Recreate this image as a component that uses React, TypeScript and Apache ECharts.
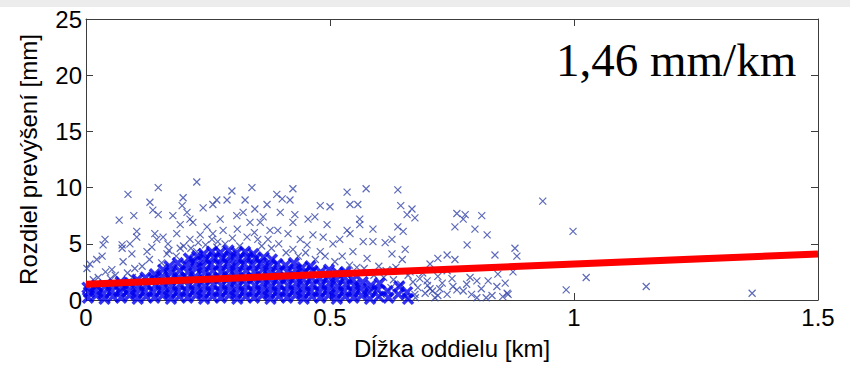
import React, { useEffect, useRef } from "react";
import * as echarts from "echarts";

const xTicks = [0, 0.5, 1, 1.5];
const yTicks = [0, 5, 10, 15, 20, 25];
const xName = "Dĺžka oddielu [km]";
const yName = "Rozdiel prevýšení [mm]";
const slopeLabel = "1,46 mm/km";

// regression line end points [km, mm]
const trendX = [0, 1.5];
const trendY = [1.4, 4.1];

// scattered single measurements [km, mm]
const sparsePoints: [number, number][] = [
  [0.227, 10.5], [0.148, 10.0], [0.086, 9.4], [0.068, 7.1], [0.098, 7.5], [0.131, 8.7], [0.137, 8.0], [0.148, 7.6],
  [0.104, 6.1], [0.104, 5.6], [0.039, 5.4], [0.035, 4.9], [0.074, 4.9], [0.074, 4.6], [0.09, 5.0], [0.094, 4.1],
  [0.033, 3.9], [0.022, 3.6], [0.008, 3.2], [0.002, 2.8], [0.053, 2.7], [0.076, 3.4], [0.125, 4.3], [0.141, 5.9],
  [0.145, 5.4], [0.135, 4.7], [0.158, 5.6], [0.178, 7.5], [0.199, 9.1], [0.197, 8.4], [0.207, 7.8], [0.213, 7.2],
  [0.219, 6.9], [0.193, 6.7], [0.186, 5.9], [0.168, 5.0], [0.166, 4.1], [0.193, 4.6], [0.213, 5.4], [0.24, 8.2],
  [0.248, 6.5], [0.26, 8.5], [0.268, 8.9], [0.275, 7.2], [0.289, 8.9], [0.234, 5.8], [0.258, 5.4], [0.227, 4.3],
  [0.268, 4.7], [0.281, 6.2],
  [0.34, 10.0], [0.299, 9.7], [0.424, 9.9], [0.535, 9.6], [0.574, 9.9], [0.326, 8.9], [0.391, 9.4], [0.402, 9.0],
  [0.418, 8.9], [0.371, 8.5], [0.346, 8.1], [0.48, 8.4], [0.5, 8.3], [0.541, 8.5], [0.557, 8.5], [0.309, 7.5],
  [0.322, 7.8], [0.336, 6.9], [0.357, 6.9], [0.363, 7.4], [0.398, 7.8], [0.428, 7.6], [0.424, 6.9], [0.455, 7.2],
  [0.469, 7.4], [0.494, 6.7], [0.561, 7.2], [0.561, 6.7], [0.535, 6.2], [0.541, 5.9], [0.377, 6.2], [0.393, 6.2],
  [0.414, 5.9], [0.352, 5.4], [0.373, 5.4], [0.439, 5.4], [0.465, 5.8], [0.486, 5.6], [0.52, 5.4], [0.506, 5.0],
  [0.568, 5.2], [0.453, 4.9], [0.424, 4.5], [0.48, 4.3], [0.547, 4.3], [0.576, 3.7],
  [0.639, 9.8], [0.645, 8.4], [0.668, 8.1], [0.658, 7.6], [0.674, 7.3], [0.76, 7.7], [0.777, 7.6], [0.773, 7.2],
  [0.811, 7.5], [0.756, 6.5], [0.797, 6.3], [0.822, 5.8], [0.781, 4.9], [0.639, 6.5], [0.65, 6.1], [0.627, 5.4],
  [0.588, 6.3], [0.588, 5.2], [0.613, 5.1], [0.879, 4.6], [0.883, 3.9], [0.838, 4.0], [0.74, 4.0], [0.721, 3.7],
  [0.756, 3.6], [0.654, 4.5], [0.627, 4.1], [0.648, 3.6], [0.705, 3.2], [0.875, 2.5], [0.844, 2.3], [0.824, 1.7],
  [0.842, 1.2], [0.863, 0.6], [0.801, 1.7], [0.787, 2.0], [0.75, 1.9], [0.721, 2.1], [0.752, 1.2], [0.773, 0.8],
  [0.801, 0.2], [0.832, 0.4], [0.854, 0.3], [0.699, 1.7], [0.684, 1.9], [0.705, 1.0], [0.74, 0.5], [0.674, 0.5],
  [0.721, 0.4], [0.664, 2.5], [0.629, 2.7],
  [0.936, 8.8], [0.998, 6.1], [1.025, 2.0], [1.148, 1.2], [1.365, 0.6], [0.984, 0.9], [0.859, 1.5], [0.865, 0.5],
  [0.115, 3.0], [0.13, 3.6], [0.155, 3.3], [0.17, 4.4], [0.185, 3.9], [0.2, 4.8], [0.215, 4.6], [0.23, 5.1],
  [0.245, 4.9], [0.26, 5.9], [0.27, 5.2], [0.285, 5.0], [0.3, 5.5], [0.31, 6.3], [0.315, 4.8], [0.33, 5.6],
  [0.345, 6.0], [0.36, 4.8], [0.38, 4.6], [0.395, 5.0], [0.41, 4.2], [0.435, 3.9], [0.45, 4.2], [0.47, 3.6],
  [0.49, 3.9], [0.51, 3.4], [0.525, 3.9], [0.54, 3.1], [0.555, 2.9], [0.06, 2.2], [0.04, 2.5], [0.025, 2.0],
  [0.085, 2.4], [0.1, 2.8], [0.015, 1.8], [0.05, 1.9], [0.095, 2.0],
  [0.57, 2.8], [0.59, 2.2], [0.6, 3.0], [0.61, 2.0], [0.615, 2.6], [0.63, 1.8], [0.635, 2.9], [0.645, 1.4],
  [0.66, 2.2], [0.67, 1.6], [0.68, 1.1], [0.69, 2.4], [0.7, 1.3], [0.71, 0.8], [0.73, 1.5], [0.74, 2.6],
  [0.76, 0.9], [0.78, 1.4], [0.79, 0.5], [0.81, 1.0], [0.82, 0.2], [0.585, 0.9], [0.605, 0.5], [0.625, 1.1],
  [0.655, 0.3], [0.675, 0.2], [0.695, 0.6], [0.715, 0.2], [0.725, 1.0],
];

// densely packed measurements near the axis [km, mm]
const densePoints: [number, number][] = [
  [0.004, 0.2], [0.006, 0.7], [0.003, 1.1],
  [0.021, 0.4], [0.019, 0.9], [0.022, 1.3],
  [0.038, 0.1], [0.036, 0.6], [0.039, 1.2],
  [0.055, 0.3], [0.053, 0.8], [0.057, 1.4],
  [0.072, 0.2], [0.07, 0.7], [0.074, 1.1], [0.071, 1.6],
  [0.089, 0.4], [0.088, 0.9], [0.091, 1.5],
  [0.106, 0.1], [0.104, 0.6], [0.108, 1.2], [0.105, 1.8],
  [0.123, 0.3], [0.121, 0.8], [0.125, 1.4], [0.122, 2.0],
  [0.14, 0.2], [0.138, 0.7], [0.142, 1.3], [0.139, 1.9], [0.141, 2.3],
  [0.157, 0.4], [0.155, 0.9], [0.159, 1.5], [0.156, 2.1], [0.158, 2.7],
  [0.174, 0.1], [0.172, 0.6], [0.176, 1.2], [0.173, 1.8], [0.175, 2.4], [0.171, 3.0],
  [0.191, 0.3], [0.189, 0.8], [0.193, 1.4], [0.19, 2.0], [0.192, 2.6], [0.188, 3.3],
  [0.208, 0.2], [0.206, 0.7], [0.21, 1.3], [0.207, 1.9], [0.209, 2.5], [0.205, 3.1], [0.211, 3.7],
  [0.225, 0.4], [0.223, 0.9], [0.227, 1.5], [0.224, 2.1], [0.226, 2.8], [0.222, 3.4], [0.228, 3.9],
  [0.242, 0.1], [0.24, 0.6], [0.244, 1.2], [0.241, 1.8], [0.243, 2.4], [0.239, 3.0], [0.245, 3.6], [0.241, 4.1],
  [0.259, 0.3], [0.257, 0.8], [0.261, 1.4], [0.258, 2.0], [0.26, 2.6], [0.256, 3.2], [0.262, 3.8], [0.258, 4.3],
  [0.276, 0.2], [0.274, 0.7], [0.278, 1.3], [0.275, 1.9], [0.277, 2.5], [0.273, 3.1], [0.279, 3.7], [0.275, 4.2],
  [0.293, 0.4], [0.291, 0.9], [0.295, 1.5], [0.292, 2.1], [0.294, 2.7], [0.29, 3.3], [0.296, 3.9], [0.292, 4.4],
  [0.31, 0.1], [0.308, 0.6], [0.312, 1.2], [0.309, 1.8], [0.311, 2.4], [0.307, 3.0], [0.313, 3.6], [0.309, 4.2],
  [0.327, 0.3], [0.325, 0.8], [0.329, 1.4], [0.326, 2.0], [0.328, 2.6], [0.324, 3.2], [0.33, 3.8], [0.326, 4.3],
  [0.344, 0.2], [0.342, 0.7], [0.346, 1.3], [0.343, 1.9], [0.345, 2.5], [0.341, 3.1], [0.347, 3.7], [0.343, 4.1],
  [0.361, 0.4], [0.359, 0.9], [0.363, 1.5], [0.36, 2.1], [0.362, 2.7], [0.358, 3.3], [0.364, 3.8],
  [0.378, 0.1], [0.376, 0.6], [0.38, 1.2], [0.377, 1.8], [0.379, 2.4], [0.375, 3.0], [0.381, 3.6],
  [0.395, 0.3], [0.393, 0.8], [0.397, 1.4], [0.394, 2.0], [0.396, 2.6], [0.392, 3.2],
  [0.412, 0.2], [0.41, 0.7], [0.414, 1.3], [0.411, 1.9], [0.413, 2.5], [0.409, 3.1],
  [0.429, 0.4], [0.427, 0.9], [0.431, 1.5], [0.428, 2.1], [0.43, 2.7], [0.426, 3.3],
  [0.446, 0.1], [0.444, 0.6], [0.448, 1.2], [0.445, 1.8], [0.447, 2.4], [0.443, 2.9],
  [0.463, 0.3], [0.461, 0.8], [0.465, 1.4], [0.462, 2.0], [0.464, 2.6], [0.46, 3.0],
  [0.48, 0.2], [0.478, 0.7], [0.482, 1.3], [0.479, 1.9], [0.481, 2.5],
  [0.497, 0.4], [0.495, 0.9], [0.499, 1.5], [0.496, 2.1], [0.498, 2.7],
  [0.514, 0.1], [0.512, 0.6], [0.516, 1.2], [0.513, 1.8], [0.515, 2.4],
  [0.531, 0.3], [0.529, 0.8], [0.533, 1.4], [0.53, 2.0], [0.532, 2.5],
  [0.548, 0.2], [0.546, 0.7], [0.55, 1.3], [0.547, 1.8],
  [0.565, 0.4], [0.563, 1.0], [0.567, 1.6],
  [0.582, 0.1], [0.58, 0.7], [0.584, 1.3],
  [0.6, 0.3], [0.598, 0.9], [0.602, 1.5],
  [0.62, 0.2], [0.618, 0.8],
  [0.64, 0.5], [0.642, 1.2],
  [0.66, 0.1], [0.658, 0.7],
];

const crossSymbol = "path://M0,0L10,10M10,0L0,10";

export default function App() {
  const ref = useRef<HTMLDivElement>(null);
  useEffect(() => {
    if (!ref.current) return;
    const chart = echarts.init(ref.current, undefined, { renderer: "svg" });
    const axisColor = "#3c3c3c";
    const font = "Liberation Sans";
    const baseX = {
      type: "value" as const,
      min: xTicks[0],
      max: xTicks[xTicks.length - 1],
      interval: xTicks[1] - xTicks[0],
      axisLine: { show: true, onZero: false, lineStyle: { color: axisColor, width: 1 } },
      axisTick: { show: true, inside: true, length: 7, lineStyle: { color: axisColor } },
      splitLine: { show: false },
    };
    const baseY = {
      type: "value" as const,
      min: yTicks[0],
      max: yTicks[yTicks.length - 1],
      interval: yTicks[1] - yTicks[0],
      axisLine: { show: true, onZero: false, lineStyle: { color: axisColor, width: 1 } },
      axisTick: { show: true, inside: true, length: 7, lineStyle: { color: axisColor } },
      splitLine: { show: false },
    };
    chart.setOption({
      animation: false,
      backgroundColor: "#ffffff",
      grid: { left: 86, top: 19, width: 732, height: 285, containLabel: false },
      xAxis: [
        {
          ...baseX,
          position: "bottom",
          axisLabel: { color: "#000", fontSize: 24, fontFamily: font, margin: 5 },
          name: xName,
          nameLocation: "middle",
          nameGap: 36,
          nameTextStyle: { color: "#000", fontSize: 24, fontFamily: font },
        },
        { ...baseX, position: "top", axisLabel: { show: false } },
      ],
      yAxis: [
        {
          ...baseY,
          position: "left",
          axisLabel: { color: "#000", fontSize: 24, fontFamily: font, margin: 4 },
          name: yName,
          nameLocation: "middle",
          nameGap: 46,
          nameTextStyle: { color: "#000", fontSize: 24, fontFamily: font },
        },
        { ...baseY, position: "right", axisLabel: { show: false } },
      ],
      graphic: [
        { type: "rect", left: 0, top: 0, shape: { width: 850, height: 7 }, style: { fill: "#ececec" }, silent: true },
        {
          type: "text",
          x: 556,
          y: 60,
          style: {
            text: slopeLabel,
            fontFamily: "Liberation Serif",
            fontSize: 47,
            fill: "#000",
            align: "left",
            verticalAlign: "middle",
          },
        },
      ],
      series: [
        {
          type: "scatter",
          xAxisIndex: 0,
          yAxisIndex: 0,
          data: sparsePoints,
          symbol: crossSymbol,
          symbolSize: 7,
          itemStyle: { color: "rgba(0,0,0,0)", borderColor: "#3545a8", borderWidth: 1.2 },
        },
        {
          type: "scatter",
          xAxisIndex: 0,
          yAxisIndex: 0,
          data: densePoints,
          symbol: crossSymbol,
          symbolSize: 10,
          itemStyle: { color: "rgba(0,0,0,0)", borderColor: "#0000ee", borderWidth: 3.5 },
        },
        {
          type: "line",
          xAxisIndex: 0,
          yAxisIndex: 0,
          data: trendX.map((x, i) => [x, trendY[i]]),
          symbol: "none",
          lineStyle: { color: "#ff0000", width: 7 },
          z: 5,
        },
      ],
    });
    return () => chart.dispose();
  }, []);
  return <div ref={ref} style={{ position: "fixed", left: 0, top: 0, width: 850, height: 365 }} />;
}
